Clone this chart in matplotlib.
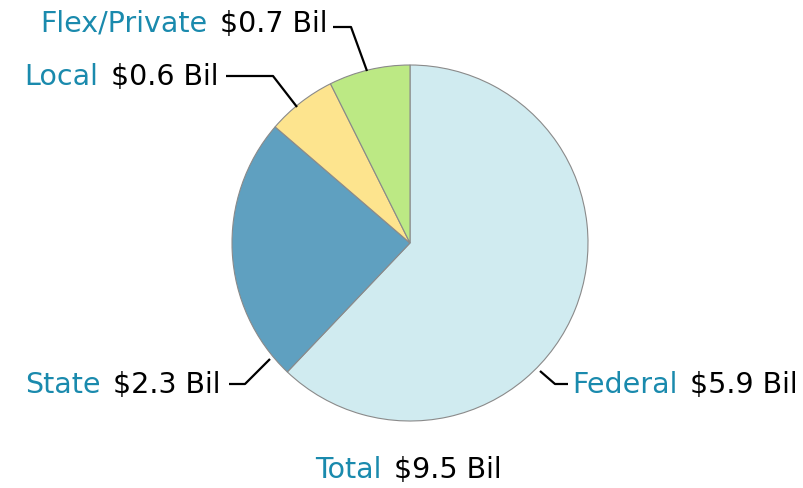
import matplotlib
matplotlib.use('Agg')
import matplotlib.pyplot as plt

names = ['Federal', 'State', 'Local', 'Flex/Private']
values = [5.9, 2.3, 0.6, 0.7]
colors = ['#d0ebf0', '#5fa0c0', '#fde48e', '#bce984']
total = 9.5

plt.rcParams['font.family'] = ['DejaVu Sans']

W, H = 804, 489
fig = plt.figure(figsize=(W / 100, H / 100), dpi=100)
ax = fig.add_axes([0, 0, 1, 1])

ax.pie(values, colors=colors, startangle=90, counterclock=False,
       center=(410, H - 244), radius=178, frame=True,
       wedgeprops=dict(edgecolor='#8a8a8a', linewidth=0.8))
ax.set_xlim(0, W)
ax.set_ylim(0, H)
ax.set_aspect('equal')
ax.axis('off')

blue = '#1a8aad'
fs = 20.5
gap = 13

# label anchor (x, center y in pixels, side) and leader lines
labels = {
    'Flex/Private': ((328, 24, 'right'), [(367, 72), (351, 28), (333, 28)]),
    'Local': ((219, 77, 'right'), [(297, 108), (273, 77), (226, 77)]),
    'State': ((221, 385, 'right'), [(270, 360), (245, 385), (229, 385)]),
    'Federal': ((572, 385, 'left'), [(540, 372), (555, 385), (568, 385)]),
}

def two_tone(x, y, side, name, value):
    if side == 'left':
        t = ax.text(x, H - y, name, color=blue, fontsize=fs,
                    ha='left', va='center')
        ax.annotate(value, xy=(1, 0.5), xycoords=t, xytext=(gap, 0),
                    textcoords='offset pixels', va='center', ha='left',
                    color='black', fontsize=fs)
    else:
        t = ax.text(x, H - y, value, color='black', fontsize=fs,
                    ha='right', va='center')
        ax.annotate(name, xy=(0, 0.5), xycoords=t, xytext=(-gap, 0),
                    textcoords='offset pixels', va='center', ha='right',
                    color=blue, fontsize=fs)

for n, v in zip(names, values):
    (x, y, side), line = labels[n]
    two_tone(x, y, side, n, '$%.1f Bil' % v)
    ax.plot([p[0] for p in line], [H - p[1] for p in line],
            color='black', linewidth=1.6, solid_capstyle='butt')

two_tone(315, 470, 'left', 'Total', '$%.1f Bil' % total)

fig.savefig('out.png', dpi=100)
